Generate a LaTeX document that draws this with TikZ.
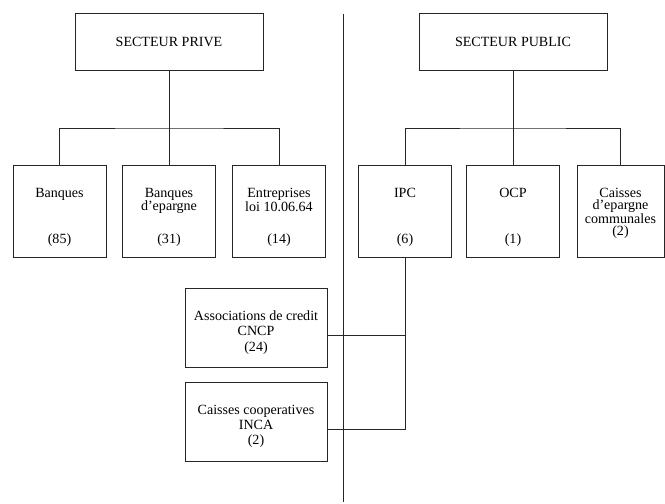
\documentclass[tikz,border=0pt]{standalone}
\usepackage{fontspec}
\setmainfont{Liberation Serif}
\usetikzlibrary{positioning}

\begin{document}
\begin{tikzpicture}[
    x=0.3mm, y=-0.3mm,
    every node/.style={font=\fontsize{12}{10.5}\selectfont},
    wire/.style={draw=black!85, line width=0.7pt},
    headbox/.style={wire, minimum width=5.64cm, minimum height=1.71cm, inner sep=0pt},
    unitbox/.style={wire, minimum width=2.79cm, minimum height=2.76cm, inner sep=0pt},
    subbox/.style={wire, minimum width=4.26cm, minimum height=2.37cm, inner sep=0pt},
    unitname/.style={align=center, inner sep=0pt},
    unitcount/.style={inner sep=0pt},
    subname/.style={align=center, inner sep=0pt, font=\fontsize{12}{13}\selectfont}
]
\useasboundingbox (0,0) rectangle (665,503);

% sectors and divider
\node[headbox] (prive) at (169,42) {SECTEUR PRIVE};
\node[headbox] (public) at (513,42) {SECTEUR PUBLIC};
\coordinate (divtop) at (343.5,14);
\coordinate (divbot) at (343.5,502);
\draw[wire] (divtop) -- (divbot);

% private units
\node[unitbox] (banq) at (59.5,211) {};
\node[unitbox] (epar) at (169,211) {};
\node[unitbox] (entr) at (279,211) {};
\node[unitname, below=0.69cm of banq.north] (banqname) {Banques};
\node[unitname, below=0.69cm of epar.north] (eparname) {Banques\\d'epargne};
\node[unitname, below=0.69cm of entr.north] (entrname) {Entreprises\\loi 10.06.64};
\node[unitcount, above=0.33cm of banq.south] (banqcount) {(85)};
\node[unitcount, above=0.33cm of epar.south] (eparcount) {(31)};
\node[unitcount, above=0.33cm of entr.south] (entrcount) {(14)};

% public units
\node[unitbox] (ipc) at (405,211) {};
\node[unitbox] (ocp) at (513,211) {};
\node[unitbox, minimum width=2.61cm] (cep) at (620.5,211) {};
\node[unitname, below=0.69cm of ipc.north] (ipcname) {IPC};
\node[unitname, below=0.69cm of ocp.north] (ocpname) {OCP};
\node[unitname, below=0.69cm of cep.north] (cepname) {Caisses\\d'epargne\\communales\\(2)};
\node[unitcount, above=0.33cm of ipc.south] (ipccount) {(6)};
\node[unitcount, above=0.33cm of ocp.south] (ocpcount) {(1)};

% bodies under IPC
\node[subbox] (cncp) at (256,327.5) {};
\node[subbox] (inca) at (256,421.5) {};
\node[subname, below=0.69cm of cncp.north] (cncpname) {Associations de credit\\CNCP\\(24)};
\node[subname, below=0.69cm of inca.north] (incaname) {Caisses cooperatives\\INCA\\(2)};

% tree links
\coordinate (privebar) at (169,128);
\coordinate (publicbar) at (513,128);
\draw[wire] (prive.south) -- (privebar);
\draw[wire] (banq.north) |- (privebar) -| (entr.north);
\draw[wire] (privebar) -- (epar.north);
\draw[wire] (public.south) -- (publicbar);
\draw[wire] (ipc.north) |- (publicbar) -| (cep.north);
\draw[wire] (publicbar) -- (ocp.north);

\coordinate (cncpjoin) at (405,335);
\coordinate (incajoin) at (405,429);
\draw[wire] (ipc.south) -- (incajoin) -- (inca.east |- incajoin);
\draw[wire] (cncp.east |- cncpjoin) -- (cncpjoin);
\end{tikzpicture}
\end{document}
